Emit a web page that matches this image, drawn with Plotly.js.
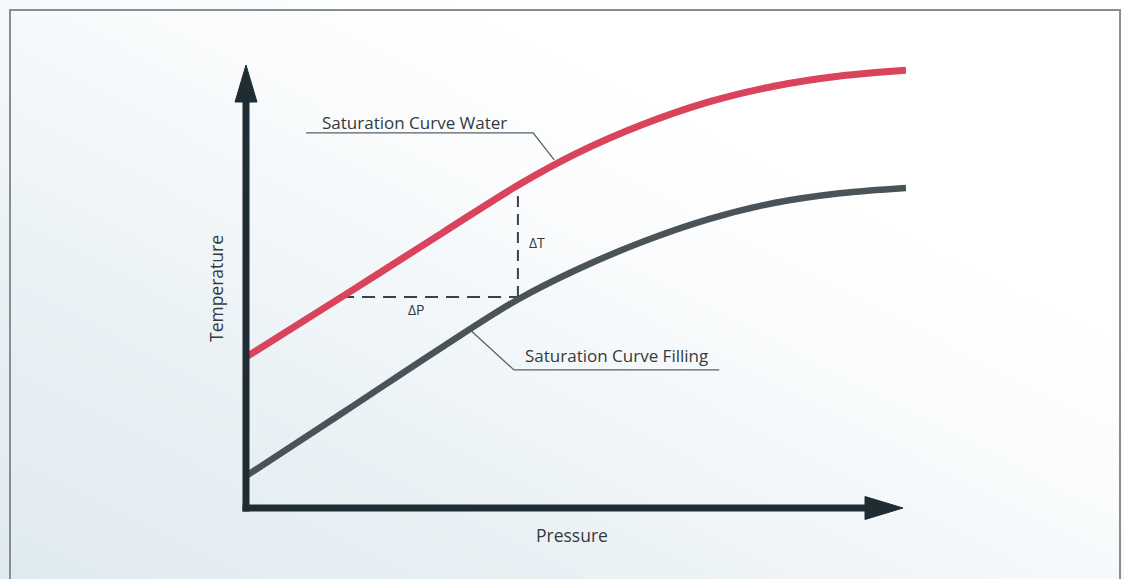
<!DOCTYPE html>
<html>
<head>
<meta charset="utf-8">
<script src="https://cdn.plot.ly/plotly-3.0.1.min.js"></script>
<style>
  html, body { margin:0; padding:0; background:#ffffff; }
  #wrap { position:relative; width:1124px; height:579px;
          background: linear-gradient(to top right, #dfeaf0 0%, #ebf2f6 30%, #f9fbfc 55%, #ffffff 70%); }
  #chart { position:absolute; left:0; top:0; width:1124px; height:579px; }
</style>
</head>
<body>
<div id="wrap"><div id="chart"></div></div>
<script>
// Pressure (arbitrary units, 0..100)
var pressure = [0, 15, 30, 41, 50, 60, 70, 80, 90, 100];
// Temperature along saturation curves (arbitrary units, 0..100)
var tempWater   = [34.0, 48.0, 62.2, 72.5, 79.8, 86.3, 91.4, 95.0, 97.3, 98.6];
var tempFilling = [7.2, 21.8, 36.5, 46.8, 53.6, 59.9, 65.0, 68.7, 70.9, 72.1];

// Delta construction (dashed)
var deltaPx = [14.4, 41.2];
var deltaPy = [47.5, 47.5];
var deltaTx = [41.2, 41.2];
var deltaTy = [47.5, 73.0];

// Leader lines for labels
var leaderWaterX   = [9.1, 43.5, 46.7];
var leaderWaterY   = [84.5, 84.5, 78.4];
var leaderFillingX = [34.1, 40.6, 71.7];
var leaderFillingY = [39.9, 31.1, 31.1];

var labels = {
  water: 'Saturation Curve Water',
  filling: 'Saturation Curve Filling',
  dT: '\u0394T',
  dP: '\u0394P',
  xTitle: 'Pressure',
  yTitle: 'Temperature'
};

var FONT = 'Open Sans, Lato, sans-serif';
var TXT = '#353a3d';
var AX = '#1f2c33';

var traces = [
  { x: deltaPx, y: deltaPy, mode: 'lines', line: {color:'#3b4246', width:2, dash:'13px,8px'}, hoverinfo:'skip' },
  { x: deltaTx, y: deltaTy, mode: 'lines', line: {color:'#3b4246', width:2, dash:'11px,7px'}, hoverinfo:'skip' },
  { x: leaderWaterX, y: leaderWaterY, mode: 'lines', line: {color:'#5a6064', width:1.3}, hoverinfo:'skip' },
  { x: leaderFillingX, y: leaderFillingY, mode: 'lines', line: {color:'#5a6064', width:1.3}, hoverinfo:'skip' },
  { x: pressure, y: tempFilling, mode: 'lines', name: labels.filling,
    line: {color:'#4a5357', width:6.5, shape:'spline', smoothing:1} },
  { x: pressure, y: tempWater, mode: 'lines', name: labels.water,
    line: {color:'#d9445c', width:7, shape:'spline', smoothing:1} }
];

var W = 660, H = 444; // plot area size in px
function px(dx){ return dx / W; }
function py(dy){ return dy / H; }

var layout = {
  width: 1124, height: 579,
  margin: {l:246, r:218, t:64, b:71, pad:0},
  paper_bgcolor: 'rgba(0,0,0,0)',
  plot_bgcolor: 'rgba(0,0,0,0)',
  showlegend: false,
  hovermode: false,
  xaxis: { range:[0,100], showgrid:false, zeroline:false, showticklabels:false, ticks:'', showline:false, fixedrange:true },
  yaxis: { range:[0,100], showgrid:false, zeroline:false, showticklabels:false, ticks:'', showline:false, fixedrange:true },
  shapes: [
    // outer frame
    { type:'rect', xref:'paper', yref:'paper', x0:px(10-246), x1:px(1120-246), y0:-py(590-508), y1:py(508-10),
      line:{color:'#8a8d8f', width:2}, fillcolor:'rgba(0,0,0,0)', layer:'below' },
    // y axis line
    { type:'line', xref:'paper', yref:'paper', x0:0, x1:0, y0:-py(3.5), y1:py(508-100),
      line:{color:AX, width:7} },
    // x axis line
    { type:'line', xref:'paper', yref:'paper', x0:-px(3.5), x1:px(868-246), y0:0, y1:0,
      line:{color:AX, width:7} },
    // y arrow head
    { type:'path', xref:'paper', yref:'paper',
      path:'M ' + (-px(11)) + ' ' + py(508-102) + ' L 0 ' + py(508-65) + ' L ' + px(11) + ' ' + py(508-102) + ' Z',
      fillcolor:AX, line:{color:AX, width:1} },
    // x arrow head
    { type:'path', xref:'paper', yref:'paper',
      path:'M ' + px(865-246) + ' ' + py(11.5) + ' L ' + px(903-246) + ' 0 L ' + px(865-246) + ' ' + (-py(11.5)) + ' Z',
      fillcolor:AX, line:{color:AX, width:1} }
  ],
  annotations: [
    { x:25.5, y:86.9, xref:'x', yref:'y', text:labels.water, showarrow:false,
      font:{family:FONT, size:17, color:TXT}, xanchor:'center', yanchor:'middle' },
    { x:56.2, y:34.4, xref:'x', yref:'y', text:labels.filling, showarrow:false,
      font:{family:FONT, size:17, color:TXT}, xanchor:'center', yanchor:'middle' },
    { x:44.1, y:59.9, xref:'x', yref:'y', text:labels.dT, showarrow:false,
      font:{family:FONT, size:14, color:TXT}, xanchor:'center', yanchor:'middle' },
    { x:25.8, y:44.6, xref:'x', yref:'y', text:labels.dP, showarrow:false,
      font:{family:FONT, size:14, color:TXT}, xanchor:'center', yanchor:'middle' },
    { x:(572-246)/W, y:-(535-508)/H, xref:'paper', yref:'paper', text:labels.xTitle, showarrow:false,
      font:{family:FONT, size:17.5, color:TXT}, xanchor:'center', yanchor:'middle' },
    { x:-(246-216)/W, y:(508-289)/H, xref:'paper', yref:'paper', text:labels.yTitle, showarrow:false, textangle:-90,
      font:{family:FONT, size:17.5, color:TXT}, xanchor:'center', yanchor:'middle' }
  ]
};

Plotly.newPlot('chart', traces, layout, {displayModeBar:false, staticPlot:true});
</script>
</body>
</html>
